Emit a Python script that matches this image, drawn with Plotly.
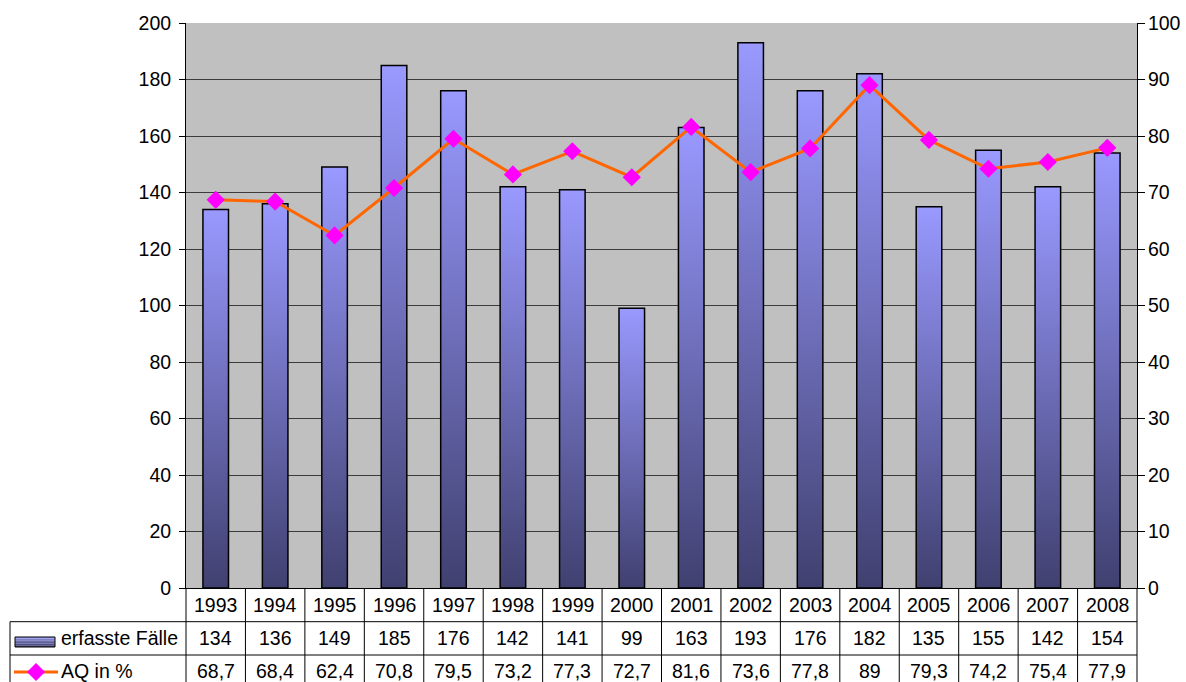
import plotly.graph_objects as go

years = ["1993", "1994", "1995", "1996", "1997", "1998", "1999", "2000",
         "2001", "2002", "2003", "2004", "2005", "2006", "2007", "2008"]
faelle = [134, 136, 149, 185, 176, 142, 141, 99, 163, 193, 176, 182, 135, 155, 142, 154]
aq = [68.7, 68.4, 62.4, 70.8, 79.5, 73.2, 77.3, 72.7, 81.6, 73.6, 77.8, 89, 79.3, 74.2, 75.4, 77.9]
series_names = ["erfasste Fälle", "AQ in %"]

OFF = 0  # page body margin (removed by post_script)
W, H = 1186, 682
ML, MR, MT, MB = 186, 49, 23, 94
PW, PH = W - ML - MR, H - MT - MB
FONT = "Liberation Sans, Arial, sans-serif"
FS = 19.5
BAR_W = 0.43
n = len(years)


def px2x(px):
    # screen pixel -> paper x
    return (px - OFF - ML) / PW


def py2y(py):
    # screen pixel -> paper y
    return (MT + PH - (py - OFF)) / PH


def fmt(v):
    s = ("%.1f" % v).rstrip("0").rstrip(".")
    return s.replace(".", ",")


fig = go.Figure()

# gradient bars
for i, v in enumerate(faelle):
    fig.add_trace(go.Scatter(
        x=[i - BAR_W / 2, i - BAR_W / 2, i + BAR_W / 2, i + BAR_W / 2, i - BAR_W / 2],
        y=[0, v, v, 0, 0],
        mode="lines", fill="toself",
        line=dict(color="black", width=1.5),
        fillgradient=dict(type="vertical", start=0, stop=v,
                          colorscale=[[0, "#404070"], [1, "#9999ff"]]),
        showlegend=False, hoverinfo="skip", yaxis="y",
    ))

fig.add_trace(go.Scatter(
    x=list(range(n)), y=aq, mode="lines+markers", name=series_names[1],
    line=dict(color="#ff6600", width=3),
    marker=dict(symbol="diamond", size=14, color="#ff00ff", line=dict(width=0)),
    yaxis="y2", showlegend=False,
))

shapes = []
ann = []
LW = dict(color="black", width=1)
r1b, r2b, bottom = py2y(621.7), py2y(655), py2y(700)
# horizontal table lines
shapes.append(dict(type="line", xref="paper", yref="paper", x0=px2x(10), x1=1, y0=r1b, y1=r1b, line=LW))
shapes.append(dict(type="line", xref="paper", yref="paper", x0=px2x(10), x1=1, y0=r2b, y1=r2b, line=LW))
# vertical lines
for k in range(n + 1):
    shapes.append(dict(type="line", xref="paper", yref="paper", x0=k / n, x1=k / n,
                       y0=0, y1=bottom, line=LW))
shapes.append(dict(type="line", xref="paper", yref="paper", x0=px2x(10), x1=px2x(10),
                   y0=r1b, y1=bottom, line=LW))

# legend keys
grad = ["#404070", "#505085", "#60609a", "#7070b0", "#8080c8", "#9090e8"]
kx0, kx1, ky0, ky1 = 15, 55, 647, 637
nseg = len(grad)
for j, c in enumerate(grad):
    shapes.append(dict(type="rect", xref="paper", yref="paper",
                       x0=px2x(kx0), x1=px2x(kx1),
                       y0=py2y(ky0 - j * (ky0 - ky1) / nseg),
                       y1=py2y(ky0 - (j + 1) * (ky0 - ky1) / nseg),
                       fillcolor=c, line=dict(width=0)))
shapes.append(dict(type="rect", xref="paper", yref="paper", x0=px2x(kx0), x1=px2x(kx1),
                   y0=py2y(ky0), y1=py2y(ky1), line=dict(color="black", width=1)))
ly = 672
shapes.append(dict(type="line", xref="paper", yref="paper", x0=px2x(14), x1=px2x(58),
                   y0=py2y(ly), y1=py2y(ly), line=dict(color="#ff6600", width=3)))
cx, d = 36, 9
shapes.append(dict(type="path", xref="paper", yref="paper",
                   path="M %f %f L %f %f L %f %f L %f %f Z" % (
                       px2x(cx - d), py2y(ly), px2x(cx), py2y(ly - d),
                       px2x(cx + d), py2y(ly), px2x(cx), py2y(ly + d)),
                   fillcolor="#ff00ff", line=dict(width=0)))

# table texts
tf = dict(family=FONT, size=FS, color="black")
for i in range(n):
    xc = (i + 0.5) / n
    ann.append(dict(x=xc, y=py2y(605), xref="paper", yref="paper", text=years[i],
                    showarrow=False, font=tf, xanchor="center", yanchor="middle"))
    ann.append(dict(x=xc, y=py2y(638.5), xref="paper", yref="paper", text=str(faelle[i]),
                    showarrow=False, font=tf, xanchor="center", yanchor="middle"))
    ann.append(dict(x=xc, y=py2y(671), xref="paper", yref="paper", text=fmt(aq[i]),
                    showarrow=False, font=tf, xanchor="center", yanchor="middle"))
ann.append(dict(x=px2x(59), y=py2y(638.5), xref="paper", yref="paper", text=series_names[0],
                showarrow=False, font=tf, xanchor="left", yanchor="middle"))
ann.append(dict(x=px2x(59), y=py2y(671), xref="paper", yref="paper", text=series_names[1],
                showarrow=False, font=tf, xanchor="left", yanchor="middle"))

fig.update_layout(
    width=W, height=H,
    margin=dict(l=ML, r=MR, t=MT, b=MB, pad=0, autoexpand=False),
    paper_bgcolor="white", plot_bgcolor="#c0c0c0",
    font=dict(family=FONT, size=FS, color="black"),
    showlegend=False,
    xaxis=dict(range=[-0.5, n - 0.5], showgrid=False, zeroline=False, automargin=False,
               showticklabels=False, ticks="", showline=True, linecolor="black", linewidth=1),
    yaxis=dict(range=[0, 200], dtick=20, tick0=0, showgrid=True, gridcolor="#3c3c3c",
               gridwidth=1, zeroline=False, showline=True, linecolor="black", linewidth=1,
               ticks="outside", ticklen=6, tickcolor="black", tickfont=tf,
               ticklabelstandoff=4, automargin=False),
    yaxis2=dict(range=[0, 100], dtick=10, tick0=0, overlaying="y", side="right",
                showgrid=False, zeroline=False, showline=True, linecolor="black", linewidth=1,
                ticks="outside", ticklen=7, tickcolor="black", tickfont=tf,
                ticklabelstandoff=-1, automargin=False),
    shapes=shapes, annotations=ann,
)

fig.write_html(
    "out.html",
    config={"displayModeBar": False},
    post_script="document.body.style.margin='0';document.body.style.overflow='hidden';",
)
